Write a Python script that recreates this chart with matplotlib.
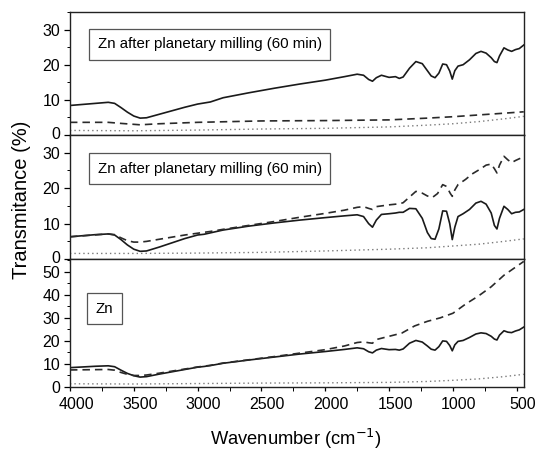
"""FTIR transmittance spectra of Zn, three stacked panels"""
import numpy as np
import matplotlib
matplotlib.use("Agg")
import matplotlib.pyplot as plt
import matplotlib.transforms as mtrans
from matplotlib.ticker import MultipleLocator

plt.rcParams["font.family"] = ["Liberation Sans", "DejaVu Sans"]

# wavenumber grid for the solid spectra (cm-1)
wn = [4000, 3900, 3800, 3700, 3650, 3600, 3550, 3500, 3450, 3400, 3300, 3200,
      3100, 3000, 2950, 2900, 2800, 2600, 2400, 2200, 2000, 1850, 1750, 1700,
      1660, 1630, 1600, 1560, 1500, 1450, 1420, 1390, 1340, 1290, 1240, 1200,
      1170, 1140, 1110, 1080, 1050, 1025, 1005, 985, 960, 920, 870, 820, 780,
      740, 700, 675, 655, 635, 600, 570, 540, 510, 480, 445]

top_solid = [8.4, 8.7, 9.0, 9.3, 9.0, 7.8, 6.5, 5.4, 4.8, 4.9, 5.9, 6.9,
             7.9, 8.8, 9.1, 9.4, 10.6, 12.0, 13.3, 14.5, 15.6, 16.6, 17.3, 17.0,
             15.8, 15.3, 16.3, 17.0, 16.4, 16.6, 16.1, 16.5, 19.0, 20.9, 20.3, 18.3,
             16.8, 16.3, 17.6, 20.2, 20.0, 18.2, 15.9, 18.3, 19.6, 20.0, 21.4, 23.2, 23.8,
             23.3, 22.0, 20.9, 20.6, 22.5, 24.8, 24.2, 23.8, 24.3, 24.6, 25.6]

mid_solid = [6.3, 6.6, 6.9, 7.1, 6.8, 5.5, 4.0, 2.8, 2.2, 2.3, 3.4, 4.6,
             5.8, 6.8, 7.0, 7.4, 8.2, 9.3, 10.2, 11.0, 11.7, 12.2, 12.5, 12.0,
             10.0, 9.0, 11.0, 12.6, 12.8, 13.0, 13.2, 13.2, 14.3, 14.2, 11.5, 7.5,
             5.8, 5.6, 8.5, 13.6, 13.5, 10.0, 5.5, 9.0, 12.0, 12.8, 14.0, 15.8, 16.3,
             15.5, 13.0, 9.5, 8.5, 11.5, 14.9, 14.0, 12.8, 13.2, 13.3, 14.0]

bot_solid = [8.4, 8.7, 9.0, 9.2, 8.8, 7.3, 5.9, 4.9, 4.3, 4.5, 5.6, 6.6,
             7.6, 8.6, 8.9, 9.3, 10.3, 11.7, 13.0, 14.3, 15.4, 16.3, 17.0, 16.6,
             15.3, 14.8, 16.0, 16.7, 16.2, 16.3, 16.0, 16.5, 19.0, 20.2, 19.5, 17.8,
             16.4, 16.0, 17.5, 20.0, 19.8, 18.0, 15.7, 18.3, 19.8, 20.2, 21.5, 23.0, 23.5,
             23.2, 22.0, 20.8, 20.4, 22.5, 24.4, 23.8, 23.6, 24.3, 24.8, 26.0]

# dashed spectra
top_dash_wn = [4000, 3700, 3600, 3450, 3300, 3000, 2500, 2000, 1500, 1200, 1000, 800, 600, 445]
top_dash = [3.6, 3.6, 3.3, 2.9, 3.2, 3.6, 4.0, 4.1, 4.3, 4.8, 5.2, 5.7, 6.2, 6.6]

mid_dash_wn = [4000, 3700, 3650, 3600, 3550, 3500, 3450, 3400, 3300, 3200, 3100, 3000,
               2900, 2800, 2600, 2400, 2200, 2000, 1850, 1750, 1700, 1660, 1630, 1600,
               1500, 1420, 1390, 1340, 1290, 1240, 1200, 1160, 1120, 1080, 1050, 1020,
               1005, 985, 960, 900, 850, 790, 740, 700, 675, 655, 635, 600, 570, 540,
               510, 480, 445]
mid_dash = [6.3, 7.1, 6.9, 6.0, 5.2, 4.8, 4.8, 5.0, 5.6, 6.2, 6.8, 7.3,
            7.8, 8.4, 9.5, 10.6, 11.8, 12.9, 13.8, 14.6, 14.8, 14.3, 14.0, 14.8,
            15.3, 15.6, 15.9, 17.5, 19.1, 18.6, 17.8, 17.4, 18.5, 21.0, 20.5, 18.5,
            17.7, 19.5, 21.0, 22.5, 24.0, 25.3, 26.5, 26.8, 25.5, 24.3, 26.5, 29.0, 28.0, 27.2,
            27.8, 28.3, 28.8]

bot_dash_wn = [4000, 3700, 3650, 3600, 3550, 3500, 3450, 3400, 3300, 3200, 3100, 3000,
               2900, 2800, 2600, 2400, 2200, 2000, 1850, 1750, 1700, 1660, 1630, 1600,
               1500, 1400, 1300, 1200, 1100, 1000, 900, 800, 700, 600, 445]
bot_dash = [7.4, 7.6, 7.3, 6.3, 5.5, 5.0, 5.0, 5.2, 6.0, 6.9, 7.8, 8.7,
            9.4, 10.4, 11.8, 13.2, 14.7, 16.2, 17.8, 19.3, 19.6, 19.2, 19.0, 20.6,
            22.0, 23.4, 26.5, 28.5, 30.0, 32.0, 36.0, 39.5, 43.5, 48.5, 54.5]

# dotted spectra
dot_wn = [4000, 3500, 3000, 2500, 2000, 1500, 1200, 1000, 800, 600, 445]
top_dot = [1.3, 1.2, 1.4, 1.7, 1.9, 2.3, 2.8, 3.2, 3.8, 4.6, 5.3]
mid_dot = [1.6, 1.6, 1.7, 1.9, 2.3, 2.8, 3.2, 3.7, 4.2, 5.0, 5.7]
bot_dot = [1.4, 1.3, 1.5, 1.7, 1.8, 2.0, 2.4, 2.9, 3.5, 4.5, 5.5]

labels = ["Zn after planetary milling (60 min)",
          "Zn after planetary milling (60 min)",
          "Zn"]
ylims = [35, 35, 55.5]
yticks = [[0, 10, 20, 30], [0, 10, 20, 30], [0, 10, 20, 30, 40, 50]]

panels = [(top_solid, top_dash_wn, top_dash, top_dot),
          (mid_solid, mid_dash_wn, mid_dash, mid_dot),
          (bot_solid, bot_dash_wn, bot_dash, bot_dot)]

fig = plt.figure(figsize=(5.38, 4.53), dpi=100)
L, W = 0.130, 0.844
bottoms = [0.702, 0.428, 0.1457]
heights = [0.9735 - 0.702, 0.702 - 0.428, 0.428 - 0.1457]
label_pos = [(0.308, 0.736), (0.308, 0.73), (0.076, 0.613)]

for i in range(3):
    ax = fig.add_axes([L, bottoms[i], W, heights[i]])
    solid, dwn, dash, dot = panels[i]
    ax.plot(wn, solid, color="#1a1a1a", lw=1.2)
    ax.plot(dwn, dash, color="#2a2a2a", lw=1.2, ls=(0, (4.5, 3)))
    ax.plot(dot_wn, dot, color="#7a7a7a", lw=1.0, ls=(0, (1, 2.2)))
    ax.set_xlim(4000, 443)
    ax.set_ylim(0, ylims[i])
    ax.set_yticks(yticks[i])
    ax.yaxis.set_minor_locator(MultipleLocator(5))
    ax.xaxis.set_major_locator(MultipleLocator(500))
    ax.xaxis.set_minor_locator(MultipleLocator(250))
    ax.tick_params(axis="both", which="major", direction="out", length=4,
                   width=0.9, labelsize=11.5, pad=3)
    ax.tick_params(axis="both", which="minor", direction="out", length=2, width=0.7)
    ax.tick_params(axis="x", which="both", length=3, pad=4)
    if i < 2:
        ax.tick_params(axis="x", labelbottom=False)
        # lift the "0" a touch so it clears the top label of the panel below
        up = mtrans.ScaledTranslation(0, 2 / 100, fig.dpi_scale_trans)
        lab0 = ax.get_yticklabels()[0]
        lab0.set_transform(lab0.get_transform() + up)
    else:
        # labels in the original sit a little right of their ticks
        shift = mtrans.ScaledTranslation(6 / 100, 0, fig.dpi_scale_trans)
        for lab in ax.get_xticklabels():
            lab.set_transform(lab.get_transform() + shift)
    for s in ax.spines.values():
        s.set_linewidth(1.0)
        s.set_color("#222222")
    ax.text(label_pos[i][0], label_pos[i][1], labels[i], transform=ax.transAxes,
            ha="center", va="center", fontsize=10.8,
            bbox=dict(boxstyle="square,pad=0.55", fc="white", ec="#555555", lw=0.9))

fig.text(0.040, 0.558, "Transmitance (%)", rotation=90, ha="center", va="center",
         fontsize=14.5)
fig.text(0.55, 0.03, "Wavenumber (cm$^{-1}$)", ha="center", va="center",
         fontsize=13.2)

fig.savefig("out.png", dpi=100)
